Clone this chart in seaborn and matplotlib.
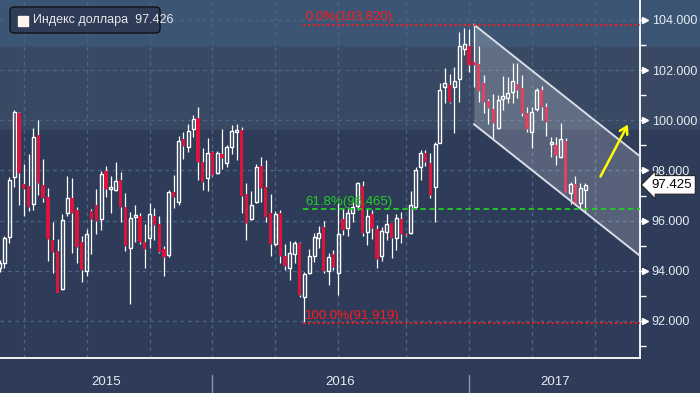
import matplotlib
matplotlib.use("Agg")
import numpy as np
import pandas as pd
import matplotlib.pyplot as plt
import matplotlib.transforms as mtransforms
from matplotlib.patches import Rectangle, FancyBboxPatch
from matplotlib.lines import Line2D
import seaborn as sns

# --- donnees hebdomadaires (indice du dollar) ---
opens = [94.10, 94.30, 95.36, 97.75, 100.28, 97.45, 97.38, 96.65, 99.41, 97.42,
         96.93, 95.23, 94.79, 93.26, 96.29, 96.92, 96.42, 95.16, 94.01, 96.38,
         96.62, 96.05, 97.98, 97.25, 97.22, 97.62, 96.53, 94.90, 96.16, 96.19,
         95.16, 95.29, 96.20, 95.85, 94.86, 94.63, 97.13, 96.76, 99.24, 98.95,
         99.64, 100.08, 98.35, 97.69, 98.72, 97.91, 98.66, 98.29, 98.95, 99.55,
         99.61, 97.06, 96.07, 96.73, 98.18, 97.33, 96.29, 95.07, 96.29, 94.59,
         94.12, 94.66, 95.10, 92.97, 93.90, 94.60, 95.29, 95.73, 94.00, 94.67,
         93.90, 96.07, 95.69, 96.32, 96.58, 97.38, 95.56, 96.26, 95.67, 94.60,
         95.53, 95.89, 95.29, 96.05, 95.47, 95.49, 96.56, 98.13, 98.68, 98.28,
         97.33, 99.11, 101.34, 101.41, 101.34, 101.63, 102.83, 102.96, 102.34, 102.25,
         101.47, 100.77, 100.44, 99.71, 100.84, 100.88, 101.12, 101.45, 101.28, 100.31,
         99.52, 100.44, 101.21, 100.52, 99.05, 99.02, 98.53, 99.18, 97.09, 97.46,
         96.72, 97.22]
highs = [94.45, 95.40, 97.73, 100.41, 100.35, 98.26, 98.66, 99.68, 100.01, 98.46,
         97.29, 95.95, 95.27, 96.27, 97.78, 97.70, 96.56, 95.40, 95.65, 96.45,
         97.26, 97.99, 98.18, 97.78, 98.35, 97.95, 97.12, 96.33, 96.62, 96.32,
         95.87, 96.69, 96.49, 96.19, 94.99, 97.22, 97.82, 99.38, 99.55, 99.84,
         100.21, 100.52, 98.88, 99.28, 98.79, 98.78, 99.64, 99.02, 99.81, 99.85,
         99.72, 97.49, 97.18, 98.26, 98.55, 98.42, 97.05, 96.39, 96.42, 95.07,
         95.19, 95.19, 95.16, 93.97, 94.87, 95.49, 95.79, 95.99, 94.72, 94.83,
         96.69, 96.49, 96.56, 96.76, 97.53, 97.59, 96.52, 96.42, 95.81, 95.73,
         96.26, 95.92, 96.26, 96.33, 95.52, 97.20, 98.15, 98.82, 98.82, 98.68,
         99.15, 101.48, 102.07, 101.85, 102.11, 103.53, 103.67, 103.63, 103.82, 102.96,
         101.81, 100.83, 101.04, 101.01, 101.77, 101.74, 102.27, 102.30, 101.81, 100.54,
         100.54, 101.30, 101.37, 100.70, 99.35, 99.35, 99.91, 99.28, 97.53, 97.79,
         97.49, 97.51]
lows = [93.95, 94.10, 95.10, 97.33, 96.62, 96.19, 96.40, 96.42, 97.02, 96.76,
        94.39, 93.90, 93.10, 93.23, 96.19, 94.70, 94.33, 93.57, 93.79, 94.67,
        95.47, 95.63, 96.93, 96.32, 97.19, 95.96, 94.80, 92.66, 95.16, 95.07,
        94.10, 94.90, 95.23, 94.70, 93.81, 94.56, 96.49, 96.62, 98.46, 98.75,
        99.35, 97.62, 97.22, 97.18, 97.78, 97.85, 98.06, 98.13, 98.66, 98.42,
        96.29, 95.23, 96.03, 96.69, 96.73, 95.96, 94.59, 94.99, 94.32, 94.03,
        93.63, 94.30, 92.97, 91.92, 93.87, 94.36, 94.90, 93.90, 93.43, 94.03,
        93.04, 95.43, 95.39, 95.96, 96.42, 95.39, 95.03, 95.26, 94.10, 94.39,
        95.23, 94.50, 94.83, 95.09, 95.39, 95.47, 96.45, 97.62, 98.19, 96.92,
        95.93, 99.11, 100.68, 100.68, 99.48, 100.74, 102.61, 101.94, 101.34, 100.74,
        100.31, 99.84, 99.24, 99.65, 100.41, 100.70, 100.70, 100.90, 100.17, 99.55,
        98.88, 100.38, 100.01, 99.38, 98.55, 98.22, 98.48, 97.09, 96.66, 96.62,
        96.45, 96.32]
closes = [94.30, 95.30, 97.62, 100.32, 97.89, 97.26, 96.53, 99.32, 97.51, 96.92,
          95.27, 94.76, 93.13, 96.03, 96.89, 96.29, 94.96, 94.03, 95.47, 96.07,
          96.00, 97.85, 97.25, 97.34, 97.58, 96.53, 95.00, 96.09, 96.23, 95.16,
          94.86, 96.25, 95.83, 94.76, 94.54, 97.13, 96.93, 99.18, 98.99, 99.57,
          100.04, 98.35, 97.55, 98.68, 97.82, 98.68, 98.51, 98.95, 99.57, 99.61,
          96.98, 95.92, 96.62, 98.13, 97.32, 96.16, 95.07, 96.25, 94.60, 94.19,
          94.69, 95.10, 93.03, 93.86, 94.60, 95.33, 95.49, 94.00, 94.56, 94.14,
          95.45, 95.63, 96.29, 96.56, 97.49, 95.52, 96.18, 95.72, 94.47, 95.59,
          95.87, 95.29, 96.09, 95.45, 95.43, 96.62, 98.02, 98.68, 98.35, 97.02,
          99.04, 101.21, 101.47, 100.75, 101.58, 102.96, 103.04, 102.21, 102.21, 101.17,
          100.74, 100.51, 99.88, 100.81, 100.97, 101.08, 101.57, 101.21, 100.31, 99.64,
          100.34, 101.21, 100.52, 99.95, 99.14, 98.62, 99.24, 97.12, 97.46, 96.66,
          97.29, 97.42]

# axe du temps (en numero de barre)
month_ticks = [1, 5, 9, 14, 18, 23, 27, 31, 36, 40, 44, 49, 53, 57, 62, 66, 70,
               75, 79, 84, 88, 92, 97, 101, 105, 110, 114, 118, 123, 127, 131]
quarter_lines = [5, 18, 31, 44, 57, 70, 84, 97, 110, 123]
year_breaks = [44, 97]
year_labels = ["2015", "2016", "2017"]
year_label_pos = [22, 70.4, 114.8]
price_ticks = [92, 94, 96, 98, 100, 102, 104]
price_minor = [91, 93, 95, 97, 99, 101, 103]

# niveaux de Fibonacci
fib_levels = [103.820, 96.465, 91.919]
fib_names = ["0.0%", "61.8%", "100.0%"]
fib_colors = ["#ff1a1a", "#22d022", "#ff1a1a"]
fib_start = 63

# canal baissier
channel_x = [98, 134]
channel_upper = [103.82, 98.31]
channel_lower = [99.85, 94.34]
arrow_from = (123.9, 97.66)
arrow_to = (130.1, 99.93)

legend_label = "Индекс доллара"
legend_value = 97.426
last_price = 97.425

df = pd.DataFrame({"open": opens, "high": highs, "low": lows, "close": closes})
df["idx"] = np.arange(len(df))
df["top"] = df[["open", "close"]].max(axis=1)
df["bot"] = df[["open", "close"]].min(axis=1)
up = df[df["close"] >= df["open"]]
dn = df[df["close"] < df["open"]]

sns.set_style("dark")
plt.rcParams["font.family"] = ["Liberation Sans", "DejaVu Sans"]

fig = plt.figure(figsize=(7, 3.93), dpi=100)
H = 393
px = mtransforms.IdentityTransform()  # coordonnees en pixels (origine en bas)

# bandes de fond
for y0, y1, col in [(0, 47, "#3d5574"), (47, 130, "#394963"), (130, 393, "#2e3c59")]:
    fig.add_artist(Rectangle((0, 1 - y1 / H), 1, (y1 - y0) / H,
                             transform=fig.transFigure, color=col, zorder=0))

ax = fig.add_axes([0, 35 / H, 640 / 700, 358 / H])
ax.set_facecolor("none")
ax.set_xlim(0.103, 132.33)
ax.set_ylim(90.523, 104.797)

# grille pointillee
for p in price_ticks:
    ax.axhline(p, color="#4b6684", lw=0.9, ls=(0, (3, 3)), zorder=1)
for q in quarter_lines:
    ax.axvline(q, color="#4b6684", lw=0.9, ls=(0, (3, 3)), zorder=1)

# bougies
ax.vlines(df["idx"], df["low"], df["bot"], color="white", lw=0.9, zorder=3)
ax.vlines(df["idx"], df["top"], df["high"], color="white", lw=0.9, zorder=3)
ax.bar(up["idx"], (up["close"] - up["open"]).clip(lower=0.04), bottom=up["open"],
       width=0.62, facecolor="none", edgecolor="white", lw=1.0, zorder=3)
ax.bar(dn["idx"], dn["open"] - dn["close"], bottom=dn["close"],
       width=0.70, color="#dc143c", lw=0, zorder=3)

# canal
ax.fill_between(channel_x, channel_lower, channel_upper, color="white",
                alpha=0.2, lw=0, zorder=4)
sns.lineplot(x=channel_x, y=channel_upper, ax=ax, color="#d8dde6", lw=1.4, zorder=5)
sns.lineplot(x=channel_x, y=channel_lower, ax=ax, color="#d8dde6", lw=1.4, zorder=5)

# Fibonacci
for lvl, name, col in zip(fib_levels, fib_names, fib_colors):
    style = (0, (3, 2)) if name == "61.8%" else (0, (1.2, 1.5))
    ax.hlines(lvl, fib_start - 0.3, 140, color=col, lw=1.3, ls=style, zorder=6)
    ax.text(fib_start + 0.2, lvl + 0.05, f"{name}({lvl:.3f})", color=col,
            fontsize=9.5, va="bottom", ha="left", zorder=6)

# fleche jaune
ax.annotate("", xy=arrow_to, xytext=arrow_from,
            arrowprops=dict(arrowstyle="->,head_length=0.5,head_width=0.3",
                            color="#ffff00", lw=1.8), zorder=7)

# axes
for s in ["top", "left"]:
    ax.spines[s].set_visible(False)
for s in ["bottom", "right"]:
    ax.spines[s].set_color("white")
    ax.spines[s].set_linewidth(1.3)
ax.set_xticks(month_ticks)
ax.set_xticklabels([])
ax.tick_params(axis="x", direction="out", length=4, width=1, color="white")
ax.yaxis.tick_right()
ax.set_yticks(price_ticks)
ax.set_yticklabels([f"{p:.3f}" for p in price_ticks])
ax.set_yticks(price_minor, minor=True)
ax.tick_params(axis="y", which="major", direction="out", length=4, width=1,
               color="white", labelcolor="#e6ecf2", labelsize=9, pad=4.5)
ax.tick_params(axis="y", which="minor", direction="out", length=4, width=1,
               color="white")
ax.plot([133.36] * len(price_ticks), price_ticks, marker=">", ls="none",
        color="white", ms=4.5, clip_on=False, zorder=8)

trans = mtransforms.blended_transform_factory(ax.transData, ax.transAxes)
for pos, lab in zip(year_label_pos, year_labels):
    ax.text(pos, -0.067, lab, transform=trans, ha="center", va="center",
            color="#e6ecf2", fontsize=9.5)
for b in year_breaks:
    ax.add_line(Line2D([b, b], [-0.047, -0.1], transform=trans, color="#8a94a6",
                       lw=1, clip_on=False))

# prix courant
ty = mtransforms.blended_transform_factory(ax.transAxes, ax.transData)
ax.text(1.018, last_price, f"{last_price:.3f}", transform=ty, ha="left", va="center",
        color="black", fontsize=9.5, zorder=9,
        bbox=dict(boxstyle="larrow,pad=0.25", fc="white", ec="#222222", lw=0.8))

# legende
fig.add_artist(FancyBboxPatch((10, H - 33), 150, 26,
                              boxstyle="round,pad=0,rounding_size=4",
                              transform=px, fc="#2f3c58", ec="#111111", lw=1, zorder=10))
fig.add_artist(Rectangle((18, H - 26), 10, 10, transform=px, color="#fff5ee", zorder=11))
fig.text(33 / 700, 1 - 20.5 / H, f"{legend_label}  {legend_value:.3f}",
         color="#e8e8e8", fontsize=9, va="center", ha="left", zorder=12)

fig.savefig("out.png", dpi=100)
